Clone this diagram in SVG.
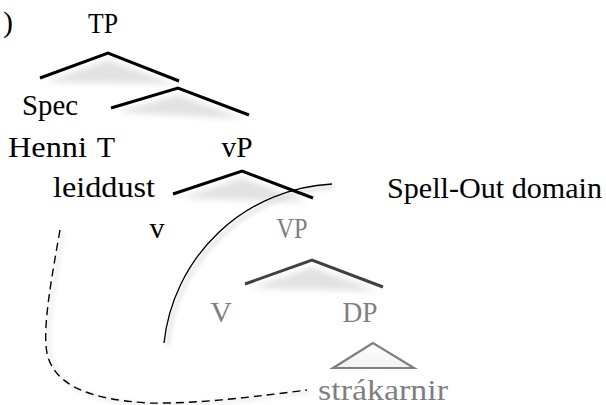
<svg xmlns="http://www.w3.org/2000/svg" width="606" height="405" viewBox="0 0 606 405">
<style>
text{font-family:"Liberation Serif","Times New Roman",serif;font-size:30px;fill:#000}
.g{fill:#7f7f7f}
.br{fill:none;stroke:#000;stroke-width:3;stroke-linejoin:miter}
.brg{fill:none;stroke:#404040;stroke-width:3}
.sh{fill:#e2e2e2;stroke:none;filter:url(#blur)}
.arc{fill:none;stroke:#000;stroke-width:1.3}
.arcsh{fill:none;stroke:#ddd;stroke-width:3;filter:url(#blur2)}
.dash{fill:none;stroke:#000;stroke-width:1.4;stroke-dasharray:8 5}
</style>
<defs>
<filter id="blur" x="-20%" y="-50%" width="140%" height="200%"><feGaussianBlur stdDeviation="3"/></filter>
<filter id="blur2" x="-20%" y="-20%" width="140%" height="140%"><feGaussianBlur stdDeviation="2"/></filter>
<linearGradient id="tri" x1="0" y1="0" x2="0" y2="1"><stop offset="0" stop-color="#fff"/><stop offset="1" stop-color="#f2f2f2"/></linearGradient>
</defs>
<rect width="606" height="405" fill="#fff"/>
<g id="shadows">
<polygon class="sh" points="46,82 108,60 174,84"/>
<polygon class="sh" points="117,112 178,95 244,119"/>
<polygon class="sh" points="180,198 242,178 308,202"/>
<polygon class="sh" points="251,288 312,267 378,291"/>
<path class="arcsh" d="M334,187 A178,178 0 0 0 167,346"/>
<path class="arcsh" d="M63,232 C55,277 47,322 49,347 C51,387 93,402 153,405 C203,406 263,398 310,392" opacity="0.6"/>
</g>
<g id="label-num"><text x="13" y="32" text-anchor="end">)</text></g>
<g id="TP"><text x="103" y="33" text-anchor="middle" textLength="30" lengthAdjust="spacingAndGlyphs">TP</text></g>
<g id="Spec"><text x="22" y="115" textLength="56" lengthAdjust="spacingAndGlyphs">Spec</text></g>
<g id="Henni"><text x="8" y="157" textLength="79" lengthAdjust="spacingAndGlyphs">Henni</text></g>
<g id="T"><text x="106" y="157" text-anchor="middle">T</text></g>
<g id="vP"><text x="237" y="157" text-anchor="middle" textLength="31" lengthAdjust="spacingAndGlyphs">vP</text></g>
<g id="leiddust"><text x="53" y="197" textLength="102" lengthAdjust="spacingAndGlyphs">leiddust</text></g>
<g id="spellout"><text x="387" y="198" textLength="215" lengthAdjust="spacingAndGlyphs">Spell-Out domain</text></g>
<g id="v"><text x="157" y="238" text-anchor="middle">v</text></g>
<g id="VP"><text class="g" x="292" y="238" text-anchor="middle" textLength="31" lengthAdjust="spacingAndGlyphs">VP</text></g>
<g id="V"><text class="g" x="221" y="322" text-anchor="middle">V</text></g>
<g id="DP"><text class="g" x="360" y="322" text-anchor="middle" textLength="35" lengthAdjust="spacingAndGlyphs">DP</text></g>
<g id="strakarnir"><text class="g" x="318" y="400" textLength="130" lengthAdjust="spacingAndGlyphs">strákarnir</text></g>
<g id="connectors">
<polyline class="br" points="40,78 108,53 179,81"/>
<polyline class="br" points="111,108 178,88 249,115"/>
<polyline class="br" points="173,194 242,171 313,198"/>
<polyline class="brg" points="245,284 312,260 383,287"/>
<polygon points="373,343 333,368 414,368" fill="url(#tri)" stroke="#808080" stroke-width="2.2"/>
<path class="arc" d="M332,184 A178,178 0 0 0 164,343"/>
<path class="dash" d="M60,230 C52,275 44,320 46,345 C48,385 90,400 150,403 C200,404 260,396 307,390"/>
</g>
</svg>
